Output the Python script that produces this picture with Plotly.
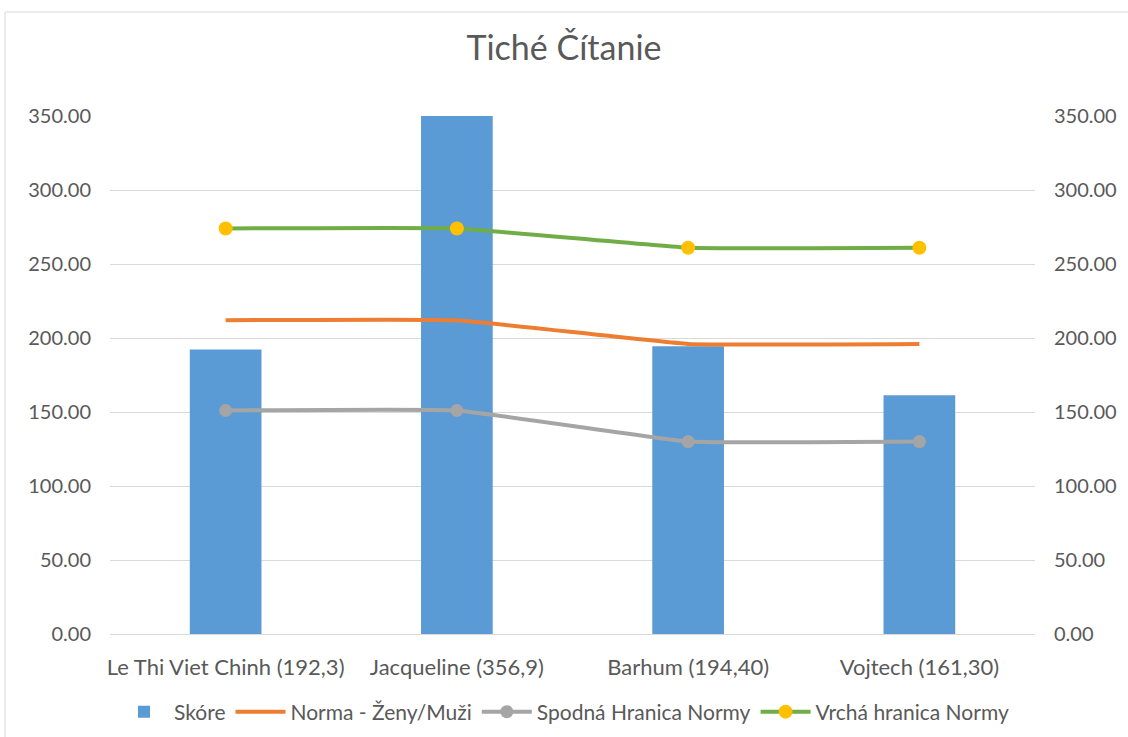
import plotly.graph_objects as go

# Chart data
categories = ["Le Thi Viet Chinh (192,3)", "Jacqueline (356,9)", "Barhum (194,40)", "Vojtech (161,30)"]
skore = [192.3, 356.9, 194.40, 161.30]
norma = [212, 212, 196, 196]
spodna = [151, 151, 130, 130]
vrcha = [274, 274, 261, 261]
y_ticks = [0, 50, 100, 150, 200, 250, 300, 350]

FONT = "Lato"
TXT = "#595959"
GRID = "#d9d9d9"

fig = go.Figure()

fig.add_trace(go.Bar(
    x=categories, y=skore, name="Skóre",
    marker=dict(color="#5B9BD5", line=dict(width=0)),
))
fig.add_trace(go.Scatter(
    x=categories, y=norma, name="Norma - Ženy/Muži", mode="lines",
    line=dict(color="#ED7D31", width=4, shape="spline", smoothing=0.3),
    yaxis="y2",
))
fig.add_trace(go.Scatter(
    x=categories, y=spodna, name="Spodná Hranica Normy", mode="lines+markers",
    line=dict(color="#A5A5A5", width=4, shape="spline", smoothing=0.3),
    marker=dict(color="#A5A5A5", size=13, symbol="circle"),
    yaxis="y2",
))
fig.add_trace(go.Scatter(
    x=categories, y=vrcha, name="Vrchá hranica Normy", mode="lines+markers",
    line=dict(color="#70AD47", width=4, shape="spline", smoothing=0.3),
    marker=dict(color="#FFC000", size=14, symbol="circle"),
    yaxis="y2",
))

yaxis_common = dict(
    range=[0, 350], tickvals=y_ticks, tickformat=".2f",
    tickfont=dict(family=FONT, size=20, color=TXT),
    ticks="", ticklabelstandoff=18, fixedrange=True, automargin=False,
)

fig.update_layout(
    width=1128, height=737,
    margin=dict(l=110, r=93, t=116, b=103),
    paper_bgcolor="white", plot_bgcolor="white",
    font=dict(family=FONT, color=TXT),
    title=dict(text="Tiché Čítanie", x=0.5, xref="container", xanchor="center",
               y=1 - 48 / 737, yref="container", yanchor="middle",
               font=dict(family=FONT, size=34, color=TXT)),
    bargap=0.69,
    xaxis=dict(
        type="category", showgrid=False, showline=True, linecolor=GRID, linewidth=1,
        tickfont=dict(family=FONT, size=22, color=TXT), ticks="", ticklabelstandoff=14,
        zeroline=False, automargin=False,
    ),
    yaxis=dict(showgrid=True, gridcolor=GRID, gridwidth=1, zeroline=False, **yaxis_common),
    yaxis2=dict(overlaying="y", side="right", showgrid=False, zeroline=False, **yaxis_common),
    legend=dict(
        orientation="h", x=0.5, xanchor="center", xref="container",
        y=1 - 712 / 737, yref="container", yanchor="middle",
        font=dict(family=FONT, size=21, color=TXT),
        itemwidth=50, traceorder="normal", bgcolor="rgba(0,0,0,0)",
    ),
    showlegend=True,
    shapes=[dict(
        type="rect", xref="paper", yref="paper",
        x0=(5 - 110) / 925, x1=(1132 - 110) / 925,
        y0=(634 - 742) / 518, y1=(634 - 12) / 518,
        line=dict(color=GRID, width=1), fillcolor="rgba(0,0,0,0)", layer="below",
    )],
)

fig.write_html("out.html")
